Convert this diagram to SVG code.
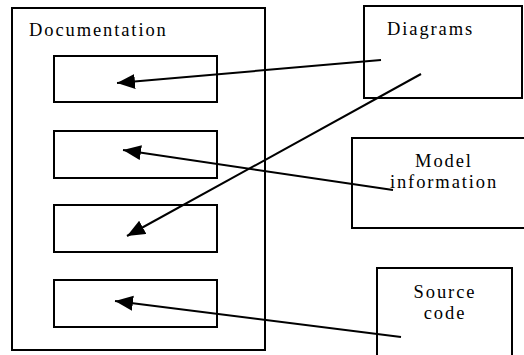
<svg xmlns="http://www.w3.org/2000/svg" width="524" height="355" viewBox="0 0 524 355">
<style>
.box{fill:#fff;stroke:#000;stroke-width:2}
.lbl{font-family:"Liberation Serif","Times New Roman",serif;font-size:18.5px;letter-spacing:1.9px;fill:#000}
.mid{text-anchor:middle}
.conn{stroke:#000;stroke-width:2;fill:none;marker-end:url(#arr)}
</style>
<defs>
<marker id="arr" markerUnits="userSpaceOnUse" markerWidth="20" markerHeight="16" refX="18" refY="7.5" orient="auto">
<path d="M0,0 L18,7.5 L0,15 Z" fill="#000"/>
</marker>
</defs>
<rect width="524" height="355" fill="#fff"/>
<g id="documentation">
<rect class="box" x="12" y="8" width="253" height="342"/>
<text class="lbl" x="29" y="36">Documentation</text>
</g>
<g id="doc-item-1"><rect class="box" x="54" y="56" width="163" height="46"/></g>
<g id="doc-item-2"><rect class="box" x="54" y="131" width="163" height="47"/></g>
<g id="doc-item-3"><rect class="box" x="54" y="205" width="163" height="47"/></g>
<g id="doc-item-4"><rect class="box" x="54" y="280" width="163" height="47"/></g>
<g id="diagrams">
<rect class="box" x="364" y="6" width="158" height="92"/>
<text class="lbl" x="387" y="35">Diagrams</text>
</g>
<g id="model-information">
<rect class="box" x="352" y="138" width="180" height="90"/>
<text class="lbl mid" x="444" y="167">Model</text>
<text class="lbl mid" x="444" y="188">information</text>
</g>
<g id="source-code">
<rect class="box" x="377" y="268" width="135" height="100"/>
<text class="lbl mid" x="445" y="298">Source</text>
<text class="lbl mid" x="445" y="319">code</text>
</g>
<g id="connectors">
<line class="conn" x1="381" y1="60" x2="117" y2="83"/>
<line class="conn" x1="421" y1="74" x2="127" y2="236"/>
<line class="conn" x1="393" y1="190" x2="123" y2="150"/>
<line class="conn" x1="401" y1="337" x2="115" y2="301"/>
</g>
</svg>
